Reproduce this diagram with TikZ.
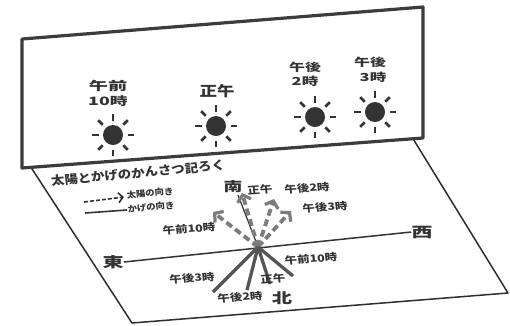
\documentclass[tikz,border=0pt]{standalone}
\usepackage{fontspec}
\setmainfont{Noto Sans CJK JP}
\usetikzlibrary{arrows.meta}
\definecolor{ink}{HTML}{333333}
\definecolor{frame}{HTML}{3C3C3C}
\definecolor{sunray}{HTML}{7C7C7C}
\definecolor{shade}{HTML}{555555}
\tikzset{
  panel/.style={draw=frame, line width=3.2pt, fill=white, line join=round},
  ground/.style={draw=ink!90!black, line width=1.5pt, line join=round},
  lbl/.style={text=ink, font=\bfseries\fontsize{#1}{#1}\selectfont, inner sep=0pt, align=center},
  sunarrow/.style={draw=sunray, line width=3.8pt, dash pattern=on 7pt off 4pt,
    -{Straight Barb[length=6pt,width=14pt,line width=3.2pt]}},
  shadowline/.style={draw=shade, line width=3.3pt},
  sun/.pic={
    \fill[ink] (0,0) circle (10);
    \foreach \a in {0,45,...,315}
      \draw[ink, line width=2.6pt] (\a:14.5) -- (\a:21);
  }
}
\begin{document}
\begin{tikzpicture}[x=1pt,y=-1pt]
\useasboundingbox (0,0) rectangle (510,325);
\fill[white] (0,0) rectangle (510,325);

% ground plane (top edge hidden under the sky panel)
\draw[ground] (31,167.3) -- (132,323) -- (508,293) -- (413,138.7);

% sky panel
\draw[panel] (22,39) -- (423,7) -- (423,138) -- (22,168) -- cycle;

% suns and their times
\pic at (113,135) {sun};
\pic at (216,126) {sun};
\pic at (315,117) {sun};
\pic at (375,112) {sun};
\node[lbl=12, xscale=1.6] (t10a) at (108,86) {午前};
\node[lbl=11.5, xscale=1.55] (t10b) at (108,101) {10時};
\node[lbl=14, xscale=1.25] (t12) at (217,91) {正午};
\node[lbl=11, xscale=1.45] (t14a) at (305,67) {午後};
\node[lbl=11, xscale=1.5] (t14b) at (305,81) {2時};
\node[lbl=11, xscale=1.45] (t15a) at (370,62) {午後};
\node[lbl=11, xscale=1.5] (t15b) at (373,77) {3時};

% title and legend
\node[lbl=12, xscale=1.12, rotate=6] (title) at (138,173) {太陽とかげのかんさつ記ろく};
\coordinate (ls0) at (84,202);
\coordinate (ls1) at (124,197);
\coordinate (lh0) at (85,213);
\coordinate (lh1) at (127,210);
\draw[draw=ink, line width=1.6pt, dash pattern=on 4pt off 2pt,
  -{Straight Barb[length=4.5pt,width=10pt,line width=1.6pt]}] (ls0) -- (ls1);
\draw[draw=ink, line width=1.6pt] (lh0) -- (lh1);
\node[lbl=8.5, xscale=1.1, rotate=5] (lgs) at (150,193) {太陽の向き};
\node[lbl=8.5, xscale=1.1, rotate=5] (lgh) at (151,207) {かげの向き};

% compass
\node[lbl=14, xscale=1.5] (east) at (113,262) {東};
\node[lbl=14, xscale=1.5] (west) at (422,232) {西};
\node[lbl=13, xscale=1.45] (south) at (233,187) {南};
\node[lbl=14, xscale=1.45] (north) at (282,298) {北};
\draw[draw=ink, line width=1.5pt] (east.east) -- (west.west);

\coordinate (C) at (258,247);
\coordinate (ns) at (238,195);
\draw[draw=ink, line width=1.2pt] (ns) -- (C);

% directions of the sun
\coordinate (a10) at (213,212);
\coordinate (a12) at (242,193);
\coordinate (a14) at (274,199);
\coordinate (a15) at (291,211);
\draw[sunarrow] (C) -- (a10);
\draw[sunarrow] (C) -- (a12);
\draw[sunarrow] (C) -- (a14);
\draw[sunarrow] (C) -- (a15);

% directions of the shadows
\coordinate (s10) at (293,276);
\coordinate (s12) at (270,284);
\coordinate (s14) at (247,290);
\coordinate (s15) at (213,292);
\draw[shadowline] (C) -- (s10);
\draw[shadowline] (C) -- (s12);
\draw[shadowline] (C) -- (s14);
\draw[shadowline] (C) -- (s15);

% time labels on the ground
\node[lbl=10, xscale=1.25, rotate=5] (g10s) at (189,229) {午前10時};
\node[lbl=10, xscale=1.25, rotate=5] (g12s) at (260,190) {正午};
\node[lbl=10, xscale=1.25, rotate=5] (g14s) at (307,188) {午後2時};
\node[lbl=10, xscale=1.25, rotate=5] (g15s) at (325,207) {午後3時};
\node[lbl=10, xscale=1.25, rotate=5] (g10h) at (311,259) {午前10時};
\node[lbl=10, xscale=1.25, rotate=5] (g12h) at (273,279) {正午};
\node[lbl=10, xscale=1.25, rotate=5] (g14h) at (240,297) {午後2時};
\node[lbl=10, xscale=1.25, rotate=5] (g15h) at (192,278) {午後3時};
\end{tikzpicture}
\end{document}
